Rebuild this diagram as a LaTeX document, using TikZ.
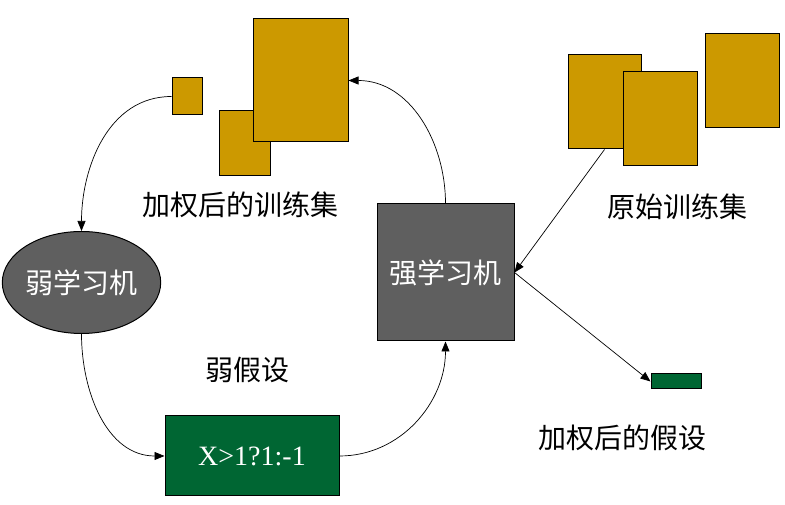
\documentclass[tikz,border=0pt]{standalone}
\usepackage{fontspec}
\setmainfont{Liberation Serif}
\newfontfamily\cjk{Noto Sans CJK SC}
\usetikzlibrary{arrows.meta,shapes.geometric}
\definecolor{gold}{HTML}{CC9900}
\definecolor{darkgray}{HTML}{5F5F5F}
\definecolor{darkgreen}{HTML}{006633}
\tikzset{
	databox/.style={draw=black,line width=1pt,fill=gold,inner sep=0pt},
	label/.style={font=\cjk\fontsize{28}{32}\selectfont,inner sep=0pt},
	learner/.style={draw=black,line width=1pt,fill=darkgray,text=white,inner sep=0pt,font=\cjk\fontsize{28}{32}\selectfont}
}
\begin{document}
\begin{tikzpicture}[>={Triangle[length=10pt,width=8pt]},x=1pt,y=1pt]
	\useasboundingbox (0,0) rectangle (785,505);
	% weighted training set
	\node[databox,minimum width=30pt,minimum height=37pt] (sq1) at (187,408.5) {};
	\node[databox,minimum width=51pt,minimum height=65pt] (sq2) at (244.5,361.5) {};
	\node[databox,minimum width=95pt,minimum height=123pt] (sq3) at (300.5,424.5) {};
	\node[label] (lblw) at (240,300) {加权后的训练集};
	% original training set
	\node[databox,minimum width=73pt,minimum height=94pt] (r1) at (604.5,403) {};
	\node[databox,minimum width=74pt,minimum height=94pt] (r2) at (660,386) {};
	\node[databox,minimum width=74pt,minimum height=94pt] (r3) at (742,424) {};
	\node[label] (lblo) at (677,298) {原始训练集};
	% learners
	\node[learner,ellipse,minimum width=153pt,minimum height=102pt] (weak) at (81.5,222.5) {弱学习机};
	\node[learner,rectangle,minimum width=137pt,minimum height=137pt] (strong) at (445.5,232.5) {强学习机};
	% hypotheses
	\node[label] (lblh) at (247,135) {弱假设};
	\node[draw=black,line width=1pt,fill=darkgreen,text=white,minimum width=174pt,minimum height=80pt,font=\fontsize{28}{32}\selectfont] (hyp) at (252,49) {X>1?1:-1};
	\node[draw=black,line width=1pt,fill=darkgreen,minimum width=50pt,minimum height=15pt,inner sep=0pt] (out) at (676,123.5) {};
	\node[label] (lblf) at (622,67) {加权后的假设};
	% connectors
	\draw[->,line width=0.7pt] (sq1.west) to[out=180,in=90] (weak.north);
	\draw[->,line width=0.7pt] (weak.south) to[out=-90,in=180] (hyp.west);
	\draw[->,line width=0.7pt] (hyp.east) to[out=0,in=-90] (strong.south);
	\draw[->,line width=0.7pt] (strong.north) to[out=90,in=0] (sq3.east);
	\draw[->,line width=0.7pt] (r1.south) -- (strong.east);
	\draw[->,line width=0.7pt] (strong.east) -- (out.west);
\end{tikzpicture}
\end{document}
